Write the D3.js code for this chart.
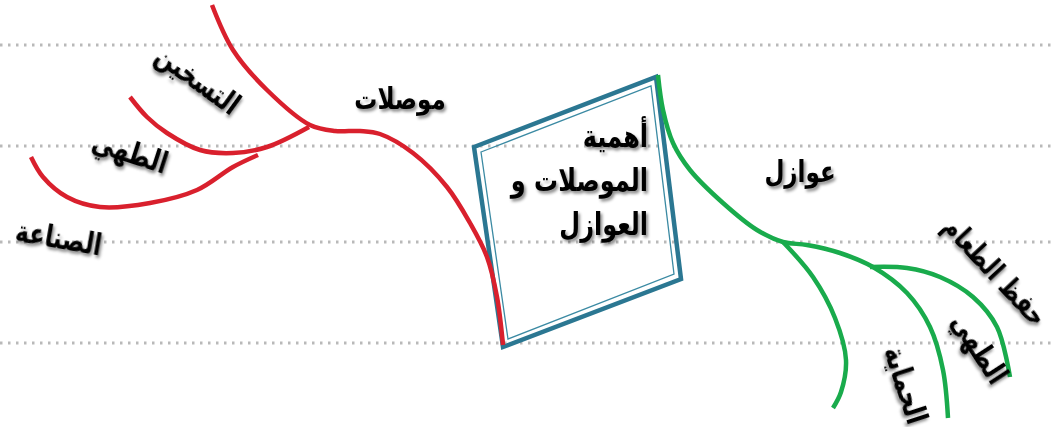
<!DOCTYPE html>
<html>
<head>
<meta charset="utf-8">
<script src="https://cdn.jsdelivr.net/npm/d3@7"></script>
<style>
  body { margin: 0; background: #fff; }
  svg text { font-family: "DejaVu Sans", sans-serif; font-weight: bold; fill: #000; }
</style>
</head>
<body>
<svg width="1056" height="427"></svg>
<script>
// labels of the mind map
var centerLines = ["أهمية", "الموصلات و", "العوازل"];
var leftTitle = "موصلات";
var leftItems = ["التسخين", "الطهي", "الصناعة"];
var rightTitle = "عوازل";
var rightItems = ["حفظ الطعام", "الطهي", "الحماية"];

// guide lines (dotted rows of the page), in layout units
var guideRows = [45, 146, 242, 343];

// branch paths in layout units (0..1056 x 0..427)
var redMain = [[212,5],[233,50],[267,90],[310,125],[335,131],[360,131],[380,134],[413,153],[447,187],[470,223],[487,257],[497,297],[503,345]];
var redBranch1 = [[309,127],[267,147],[233,153],[200,150],[167,133],[147,117],[130,97]];
var redBranch2 = [[258,155],[233,167],[197,190],[150,203],[100,207],[67,197],[43,177],[31,157]];
var greenMain = [[658,75],[663,110],[673,143],[690,170],[723,203],[757,230],[783,242],[807,245],[840,253],[873,267],[907,293],[930,327],[943,370],[948,418]];
var greenBranch1 = [[783,242],[813,277],[835,318],[846,360],[841,392],[833,408]];
var greenBranch2 = [[870,267],[907,268],[940,277],[973,297],[997,327],[1010,377]];

// diamond corners
var diamond = [[474,147],[656,77],[681,279],[503,347]];
var diamondInner = [[481,152],[651,86],[674,274],[508,339]];

// label anchor points [x, y, rotation]
var leftTitlePos = [400, 109, 0];
var leftItemPos = [[192, 88, 36], [127, 162, 18], [57, 248, 10]];
var rightTitlePos = [800, 182, 0];
var rightItemPos = [[988, 278, 47], [971, 354, 57], [896, 388, 72]];
var centerPos = [648, 147, 44];

var stretch = 1.3;

var svg = d3.select("svg"),
  width = +svg.attr("width"),
  height = +svg.attr("height");

var x = d3.scaleLinear().domain([0, 1056]).range([0, width]);
var y = d3.scaleLinear().domain([0, 427]).range([0, height]);

var defs = svg.append("defs");
var shadow = defs.append("filter").attr("id", "shadow")
  .attr("x", "-20%").attr("y", "-20%").attr("width", "150%").attr("height", "150%");
shadow.append("feDropShadow")
  .attr("dx", 2).attr("dy", 2).attr("stdDeviation", 1.4)
  .attr("flood-color", "#000").attr("flood-opacity", 0.45);

// dotted guide rows
svg.append("g")
  .selectAll("line")
  .data(guideRows)
  .enter().append("line")
  .attr("x1", x(0))
  .attr("x2", x(1056))
  .attr("y1", function(d) { return y(d); })
  .attr("y2", function(d) { return y(d); })
  .attr("stroke", "#a8a8a8")
  .attr("stroke-width", 3)
  .attr("stroke-dasharray", "2.5,5.5")
  .attr("opacity", 0.8);

// diamond
var poly = d3.line()
  .x(function(d) { return x(d[0]); })
  .y(function(d) { return y(d[1]); })
  .curve(d3.curveLinearClosed);

svg.append("path")
  .attr("d", poly(diamond))
  .attr("fill", "none")
  .attr("stroke", "#2b7792")
  .attr("stroke-width", 4.5)
  .attr("stroke-linejoin", "miter");

svg.append("path")
  .attr("d", poly(diamondInner))
  .attr("fill", "none")
  .attr("stroke", "#3b8aa3")
  .attr("stroke-width", 1.3);

// branches
var curve = d3.line()
  .x(function(d) { return x(d[0]); })
  .y(function(d) { return y(d[1]); })
  .curve(d3.curveCatmullRom.alpha(0.5));

var branches = [
  { pts: redMain, color: "#d9202d" },
  { pts: redBranch1, color: "#d9202d" },
  { pts: redBranch2, color: "#d9202d" },
  { pts: greenMain, color: "#19ab4c" },
  { pts: greenBranch1, color: "#19ab4c" },
  { pts: greenBranch2, color: "#19ab4c" }
];

svg.append("g")
  .selectAll("path")
  .data(branches)
  .enter().append("path")
  .attr("d", function(d) { return curve(d.pts); })
  .attr("fill", "none")
  .attr("stroke", function(d) { return d.color; })
  .attr("stroke-width", 4.5)
  .attr("stroke-linecap", "butt");

// labels
var labels = [
  { text: leftTitle, p: leftTitlePos },
  { text: rightTitle, p: rightTitlePos }
];
leftItems.forEach(function(t, i) { labels.push({ text: t, p: leftItemPos[i] }); });
rightItems.forEach(function(t, i) { labels.push({ text: t, p: rightItemPos[i] }); });

svg.append("g")
  .selectAll("text")
  .data(labels)
  .enter().append("text")
  .attr("transform", function(d) {
    return "translate(" + x(d.p[0]) + "," + y(d.p[1]) + ") rotate(" + d.p[2] + ") scale(1," + stretch + ")";
  })
  .attr("text-anchor", "middle")
  .attr("font-size", function(d, i) { return i == 5 ? 22 : 23; })
  .attr("filter", "url(#shadow)")
  .text(function(d) { return d.text; });

// center text
svg.append("g")
  .selectAll("text")
  .data(centerLines)
  .enter().append("text")
  .attr("transform", function(d, i) {
    return "translate(" + x(centerPos[0]) + "," + y(centerPos[1] + i * centerPos[2]) + ") scale(1," + stretch + ")";
  })
  .attr("text-anchor", "end")
  .attr("font-size", 24)
  .attr("filter", "url(#shadow)")
  .text(function(d) { return d; });
</script>
</body>
</html>
